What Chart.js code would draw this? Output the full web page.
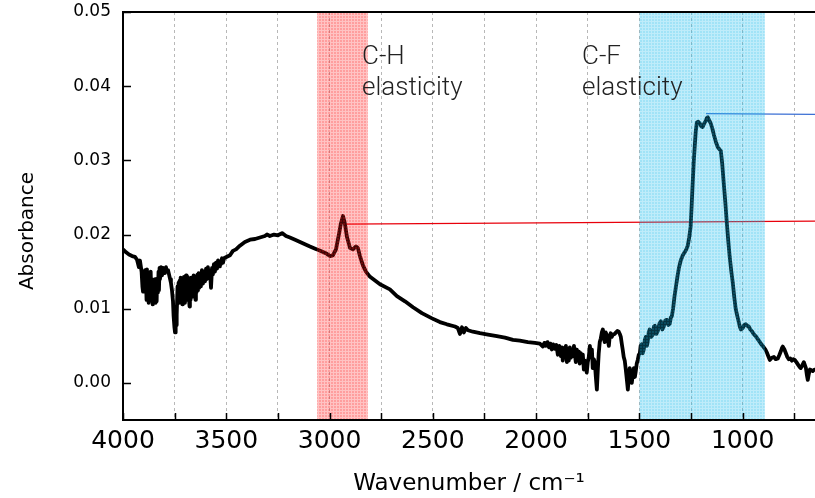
<!DOCTYPE html>
<html lang="en">
<head>
<meta charset="UTF-8" />
<title>IR spectrum – absorbance</title>
<script src="https://cdn.jsdelivr.net/npm/chart.js"></script>
<style>
  html, body { margin: 0; padding: 0; background: #fff; }
  #wrap { width: 815px; height: 498px; }
</style>
</head>
<body>
<div id="wrap"><canvas id="irChart" width="815" height="498"></canvas></div>
<script>
// spectrum: [wavenumber / cm-1, absorbance]
const spectrum = [
  [4000,0.0180],[3985,0.0176],[3971,0.0173],[3956,0.0171],[3942,0.0170],[3932,0.0166],[3923,0.0156],[3918,0.0165],
  [3910,0.0150],[3906,0.0130],[3903,0.0123],[3900,0.0148],[3896,0.0128],[3893,0.0152],[3889,0.0140],[3886,0.0112],
  [3884,0.0153],[3881,0.0120],[3879,0.0146],[3876,0.0108],[3874,0.0145],[3871,0.0125],[3869,0.0112],[3866,0.0150],
  [3863,0.0118],[3860,0.0140],[3857,0.0106],[3855,0.0132],[3852,0.0110],[3850,0.0135],[3847,0.0115],[3845,0.0140],
  [3842,0.0108],[3840,0.0126],[3837,0.0110],[3835,0.0140],[3831,0.0122],[3828,0.0150],[3826,0.0125],[3823,0.0155],
  [3821,0.0140],[3816,0.0156],[3811,0.0145],[3806,0.0155],[3801,0.0148],[3797,0.0150],[3792,0.0156],[3787,0.0150],
  [3782,0.0152],[3777,0.0146],[3772,0.0140],[3768,0.0135],[3763,0.0125],[3758,0.0110],[3755,0.0090],[3751,0.0075],
  [3748,0.0068],[3745,0.0088],[3743,0.0100],[3741,0.0078],[3739,0.0092],[3736,0.0130],[3734,0.0112],[3731,0.0135],
  [3729,0.0108],[3726,0.0138],[3724,0.0115],[3721,0.0142],[3719,0.0110],[3716,0.0140],[3713,0.0106],[3710,0.0138],
  [3707,0.0115],[3705,0.0143],[3702,0.0108],[3700,0.0138],[3697,0.0112],[3695,0.0145],[3692,0.0118],[3690,0.0143],
  [3687,0.0112],[3684,0.0140],[3681,0.0118],[3678,0.0103],[3676,0.0138],[3673,0.0112],[3670,0.0142],[3666,0.0116],
  [3663,0.0140],[3661,0.0120],[3658,0.0145],[3655,0.0118],[3652,0.0130],[3649,0.0112],[3647,0.0143],[3644,0.0122],
  [3640,0.0146],[3637,0.0125],[3634,0.0148],[3631,0.0128],[3627,0.0148],[3623,0.0130],[3618,0.0152],[3613,0.0134],
  [3608,0.0150],[3603,0.0137],[3598,0.0154],[3594,0.0140],[3589,0.0156],[3584,0.0143],[3579,0.0150],[3574,0.0128],
  [3569,0.0155],[3565,0.0146],[3560,0.0160],[3555,0.0150],[3550,0.0162],[3545,0.0154],[3540,0.0165],[3535,0.0157],
  [3531,0.0163],[3526,0.0160],[3521,0.0168],[3516,0.0162],[3511,0.0168],[3497,0.0170],[3482,0.0172],[3468,0.0178],
  [3453,0.0180],[3434,0.0185],[3410,0.0190],[3385,0.0193],[3361,0.0194],[3337,0.0196],[3313,0.0198],[3303,0.0200],
  [3289,0.0198],[3269,0.0200],[3250,0.0199],[3230,0.0202],[3211,0.0198],[3192,0.0196],[3167,0.0193],[3143,0.0190],
  [3119,0.0187],[3095,0.0184],[3061,0.0180],[3037,0.0177],[3013,0.0174],[2998,0.0171],[2984,0.0172],[2969,0.0180],
  [2955,0.0200],[2945,0.0215],[2935,0.0225],[2926,0.0215],[2916,0.0197],[2901,0.0182],[2887,0.0180],[2872,0.0184],
  [2863,0.0182],[2853,0.0171],[2838,0.0158],[2824,0.0150],[2804,0.0143],[2780,0.0138],[2756,0.0133],[2708,0.0126],
  [2674,0.0117],[2635,0.0110],[2596,0.0102],[2553,0.0094],[2504,0.0087],[2466,0.0082],[2432,0.0079],[2393,0.0076],
  [2379,0.0074],[2369,0.0066],[2359,0.0075],[2350,0.0068],[2340,0.0074],[2330,0.0071],[2306,0.0069],[2272,0.0067],
  [2233,0.0065],[2190,0.0063],[2151,0.0061],[2112,0.0058],[2079,0.0057],[2040,0.0055],[2006,0.0054],[1982,0.0053],
  [1967,0.0049],[1960,0.0054],[1953,0.0050],[1945,0.0055],[1938,0.0048],[1931,0.0053],[1924,0.0045],[1917,0.0052],
  [1909,0.0046],[1902,0.0051],[1895,0.0038],[1888,0.0050],[1880,0.0036],[1875,0.0048],[1871,0.0030],[1866,0.0047],
  [1861,0.0035],[1856,0.0050],[1851,0.0028],[1847,0.0046],[1842,0.0030],[1837,0.0048],[1832,0.0034],[1827,0.0044],
  [1822,0.0036],[1817,0.0050],[1813,0.0040],[1808,0.0028],[1803,0.0045],[1798,0.0032],[1793,0.0042],[1789,0.0026],
  [1784,0.0040],[1779,0.0030],[1774,0.0038],[1769,0.0018],[1764,0.0030],[1759,0.0022],[1755,0.0014],[1750,0.0028],
  [1745,0.0035],[1740,0.0050],[1735,0.0038],[1730,0.0045],[1726,0.0020],[1721,0.0032],[1716,0.0028],[1711,0.0008],
  [1706,-0.0009],[1701,0.0020],[1697,0.0040],[1692,0.0055],[1687,0.0060],[1682,0.0068],[1677,0.0072],[1672,0.0060],
  [1668,0.0055],[1663,0.0068],[1658,0.0065],[1653,0.0058],[1648,0.0050],[1644,0.0062],[1639,0.0067],[1634,0.0062],
  [1629,0.0065],[1620,0.0066],[1614,0.0068],[1607,0.0070],[1600,0.0069],[1595,0.0066],[1590,0.0062],[1585,0.0052],
  [1581,0.0045],[1576,0.0035],[1571,0.0030],[1566,0.0018],[1561,0.0005],[1556,-0.0009],[1551,0.0010],[1547,0.0020],
  [1542,0.0008],[1537,0.0000],[1532,0.0012],[1527,0.0020],[1522,0.0008],[1518,0.0015],[1513,0.0026],[1508,0.0031],
  [1503,0.0038],[1498,0.0040],[1494,0.0050],[1489,0.0052],[1484,0.0040],[1479,0.0045],[1474,0.0058],[1469,0.0062],
  [1464,0.0050],[1460,0.0055],[1455,0.0068],[1450,0.0072],[1443,0.0062],[1435,0.0065],[1430,0.0076],[1425,0.0077],
  [1418,0.0066],[1411,0.0070],[1403,0.0080],[1396,0.0083],[1389,0.0072],[1382,0.0076],[1375,0.0084],[1367,0.0085],
  [1360,0.0078],[1353,0.0080],[1348,0.0088],[1343,0.0090],[1337,0.0100],[1330,0.0117],[1322,0.0132],[1315,0.0145],
  [1308,0.0156],[1300,0.0165],[1290,0.0172],[1281,0.0176],[1273,0.0180],[1266,0.0185],[1259,0.0196],[1252,0.0211],
  [1247,0.0240],[1242,0.0270],[1237,0.0298],[1232,0.0320],[1227,0.0340],[1222,0.0351],[1215,0.0352],[1208,0.0350],
  [1201,0.0346],[1194,0.0345],[1186,0.0350],[1179,0.0353],[1174,0.0357],[1169,0.0358],[1162,0.0354],[1155,0.0350],
  [1147,0.0343],[1140,0.0335],[1130,0.0325],[1121,0.0318],[1113,0.0315],[1106,0.0313],[1099,0.0295],[1092,0.0270],
  [1084,0.0243],[1077,0.0216],[1070,0.0192],[1063,0.0170],[1055,0.0150],[1048,0.0135],[1041,0.0116],[1034,0.0100],
  [1026,0.0090],[1019,0.0082],[1014,0.0076],[1009,0.0072],[1004,0.0073],[1000,0.0074],[992,0.0078],[985,0.0079],
  [978,0.0077],[971,0.0076],[963,0.0072],[956,0.0070],[947,0.0066],[937,0.0063],[927,0.0059],[917,0.0055],
  [907,0.0051],[898,0.0048],[890,0.0045],[883,0.0041],[876,0.0036],[869,0.0031],[859,0.0034],[849,0.0035],
  [840,0.0032],[830,0.0033],[822,0.0038],[815,0.0043],[810,0.0047],[806,0.0049],[798,0.0045],[791,0.0040],
  [784,0.0035],[777,0.0032],[770,0.0033],[762,0.0030],[755,0.0032],[748,0.0031],[740,0.0028],[733,0.0025],
  [726,0.0022],[719,0.0020],[711,0.0024],[704,0.0028],[699,0.0024],[694,0.0020],[689,0.0010],[685,0.0004],
  [680,0.0012],[675,0.0018],[668,0.0017],[661,0.0016],[653,0.0018],[646,0.0018]
];

// peak level markers
const chLineWn = [2935, 650];
const chLineAbs = [0.0214, 0.0218];
const cfLineWn = [1178, 650];
const cfLineAbs = [0.0363, 0.0362];

// highlighted bands (wavenumber ranges)
const chBand = [3060, 2815];
const cfBand = [1500, 893];

// band labels
const bandLabels = [['C-H', 'elasticity'], ['C-F', 'elasticity']];
const bandLabelWn = [2843, 1778];
const bandLabelAbs = [0.0430, 0.0388];

// axes
const xTickValues = [750, 1000, 1250, 1500, 1750, 2000, 2250, 2500, 2750, 3000, 3250, 3500, 3750, 4000];
const yTickValues = [0, 0.01, 0.02, 0.03, 0.04, 0.05];

function meshPattern(rgb, alpha, lineAlpha) {
  const c = document.createElement('canvas');
  c.width = 3; c.height = 3;
  const g = c.getContext('2d');
  g.fillStyle = `rgba(${rgb},${alpha})`;
  g.fillRect(1, 1, 2, 2);
  g.fillStyle = `rgba(${rgb},${lineAlpha})`;
  g.fillRect(0, 0, 3, 1);
  g.fillRect(0, 1, 1, 2);
  return g.createPattern(c, 'repeat');
}
const redMesh = meshPattern('255,25,25', 0.42, 0.26);
const blueMesh = meshPattern('20,185,235', 0.4, 0.27);

const decorations = {
  id: 'decorations',
  afterDatasetDraw(chart, args) {
    if (args.index !== 0) return;
    const { ctx, chartArea: a, scales: { x } } = chart;
    ctx.save();
    ctx.beginPath();
    ctx.rect(a.left, a.top, a.right - a.left, a.bottom - a.top);
    ctx.clip();
    [[chBand, redMesh], [cfBand, blueMesh]].forEach(([b, fill]) => {
      const x0 = x.getPixelForValue(b[0]);
      const x1 = x.getPixelForValue(b[1]);
      ctx.fillStyle = fill;
      ctx.fillRect(x0, a.top, x1 - x0, a.bottom - a.top);
    });
    ctx.restore();
  },
  afterDraw(chart) {
    const { ctx, chartArea: a, scales: { x, y } } = chart;
    ctx.save();

    // band labels
    ctx.fillStyle = '#222';
    ctx.font = '300 26px Roboto';
    ctx.textAlign = 'left';
    ctx.textBaseline = 'alphabetic';
    bandLabels.forEach((lines, i) => {
      const px = x.getPixelForValue(bandLabelWn[i]);
      lines.forEach((t, j) => ctx.fillText(t, px, y.getPixelForValue(bandLabelAbs[j])));
    });

    // frame: top, left, bottom
    ctx.strokeStyle = '#000';
    ctx.lineWidth = 2;
    ctx.beginPath();
    ctx.moveTo(a.right, a.top);
    ctx.lineTo(a.left, a.top);
    ctx.lineTo(a.left, a.bottom);
    ctx.lineTo(a.right, a.bottom);
    ctx.stroke();

    // inward ticks
    ctx.lineWidth = 1.5;
    ctx.beginPath();
    yTickValues.forEach(v => {
      const py = Math.round(y.getPixelForValue(v)) + 0.5;
      ctx.moveTo(a.left, py);
      ctx.lineTo(a.left + 8, py);
    });
    xTickValues.forEach(v => {
      const px = Math.round(x.getPixelForValue(v)) + 0.5;
      ctx.moveTo(px, a.bottom);
      ctx.lineTo(px, a.bottom - 7);
    });
    ctx.stroke();

    // y axis title
    ctx.fillStyle = '#000';
    ctx.font = '20px "DejaVu Sans"';
    ctx.textAlign = 'center';
    ctx.translate(33, 231);
    ctx.rotate(-Math.PI / 2);
    ctx.fillText('Absorbance', 0, 0);
    ctx.restore();
  }
};

const toPoints = (xs, ys) => xs.map((v, i) => ({ x: v, y: ys[i] }));

new Chart(document.getElementById('irChart'), {
  type: 'scatter',
  data: {
    datasets: [
      {
        data: spectrum.map(([w, a]) => ({ x: w, y: a })),
        showLine: true,
        borderColor: '#000',
        borderWidth: 3.8,
        borderJoinStyle: 'round',
        pointRadius: 0,
        tension: 0
      },
      {
        data: toPoints(chLineWn, chLineAbs),
        showLine: true,
        borderColor: '#e8000b',
        borderWidth: 1.3,
        pointRadius: 0
      },
      {
        data: toPoints(cfLineWn, cfLineAbs),
        showLine: true,
        borderColor: '#3b6fd4',
        borderWidth: 1.3,
        pointRadius: 0
      }
    ]
  },
  options: {
    responsive: false,
    animation: false,
    layout: { padding: { top: 12, left: 0, right: 0, bottom: 0 } },
    plugins: { legend: { display: false }, tooltip: { enabled: false } },
    scales: {
      x: {
        type: 'linear',
        reverse: true,
        min: 650,
        max: 4000,
        afterBuildTicks: s => { s.ticks = xTickValues.map(v => ({ value: v })); },
        afterFit: s => { s.height = 78; s.paddingLeft = 0; s.paddingRight = 0; },
        ticks: {
          autoSkip: false,
          maxRotation: 0,
          padding: 6,
          color: '#000',
          font: { family: 'DejaVu Sans', size: 25 },
          callback: v => (v % 500 === 0 ? String(v) : '')
        },
        grid: {
          drawTicks: false,
          lineWidth: 1,
          color: c => (c.tick && c.tick.value === 4000 ? 'rgba(0,0,0,0)' : '#b8b8b8')
        },
        border: { display: false, dash: [3, 3] },
        title: {
          display: true,
          text: 'Wavenumber / cm⁻¹',
          color: '#000',
          font: { family: 'DejaVu Sans', size: 23 },
          padding: { top: 0, bottom: 0 }
        }
      },
      y: {
        min: -0.005,
        max: 0.05,
        afterBuildTicks: s => { s.ticks = yTickValues.map(v => ({ value: v })); },
        afterFit: s => { s.width = 123; s.paddingTop = 0; s.paddingBottom = 0; },
        ticks: {
          padding: 12,
          color: '#000',
          font: { family: 'DejaVu Sans', size: 17 },
          callback: v => v.toFixed(2)
        },
        grid: { display: false, drawTicks: false },
        border: { display: false }
      }
    }
  },
  plugins: [decorations]
});
</script>
</body>
</html>
